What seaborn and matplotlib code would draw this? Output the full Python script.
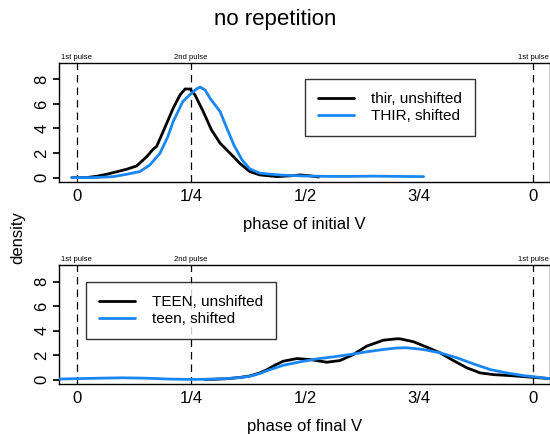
"""Phase density plots: no repetition."""

import matplotlib
matplotlib.use("Agg")
import matplotlib.pyplot as plt
import matplotlib.transforms as mtransforms
import seaborn as sns

# --- data ---
init_unshift_x = [-0.011, 0.021, 0.045, 0.065, 0.09, 0.109, 0.131, 0.153, 0.167, 0.175,
                  0.189, 0.211, 0.226, 0.237, 0.248, 0.259, 0.277, 0.295, 0.314, 0.336,
                  0.357, 0.379, 0.401, 0.423, 0.44, 0.47, 0.49, 0.51, 0.53]
init_unshift_y = [0.0, 0.0, 0.12, 0.27, 0.5, 0.68, 0.95, 1.7, 2.3, 2.55,
                  3.74, 5.64, 6.72, 7.21, 7.21, 6.72, 5.37, 3.88, 2.8, 1.98,
                  1.17, 0.49, 0.22, 0.14, 0.08, 0.15, 0.22, 0.15, 0.05]
init_shift_x = [-0.011, 0.036, 0.08, 0.109, 0.138, 0.16, 0.182, 0.199, 0.211, 0.232, 0.251,
                0.262, 0.270, 0.281, 0.292, 0.314, 0.329, 0.344, 0.362, 0.379, 0.401,
                0.423, 0.45, 0.5, 0.55, 0.6, 0.65, 0.7, 0.76]
init_shift_y = [0.0, 0.0, 0.08, 0.27, 0.49, 1.03, 1.98, 3.3, 4.55, 6.18, 6.86,
                7.21, 7.37, 7.13, 6.45, 5.37, 4.0, 2.66, 1.44, 0.71, 0.36,
                0.28, 0.2, 0.13, 0.1, 0.1, 0.12, 0.1, 0.08]

final_unshift_x = [0.28, 0.30, 0.33, 0.355, 0.379, 0.401, 0.416, 0.435, 0.452, 0.482,
                   0.511, 0.548, 0.577, 0.606, 0.635, 0.672, 0.701, 0.708, 0.738, 0.767,
                   0.796, 0.825, 0.855, 0.884, 0.913, 0.95, 1.0, 1.037]
final_unshift_y = [0.02, 0.03, 0.08, 0.17, 0.3, 0.55, 0.8, 1.2, 1.5, 1.72,
                   1.64, 1.42, 1.56, 2.05, 2.73, 3.22, 3.33, 3.33, 3.09, 2.65,
                   2.19, 1.56, 0.96, 0.55, 0.41, 0.33, 0.19, 0.08]
final_shift_x = [-0.04, 0.0, 0.05, 0.1, 0.15, 0.2, 0.25, 0.28, 0.31, 0.34, 0.36, 0.379,
                 0.401, 0.416, 0.452, 0.489, 0.526, 0.562, 0.599, 0.635, 0.672, 0.701,
                 0.723, 0.759, 0.796, 0.833, 0.869, 0.906, 0.942, 0.979, 1.0, 1.037]
final_shift_y = [0.05, 0.08, 0.12, 0.15, 0.12, 0.05, 0.02, 0.03, 0.06, 0.12, 0.18, 0.27,
                 0.5, 0.72, 1.17, 1.45, 1.69, 1.86, 2.05, 2.27, 2.46, 2.58,
                 2.6, 2.46, 2.19, 1.78, 1.29, 0.82, 0.55, 0.33, 0.25, 0.08]

tick_pos = [0, 0.25, 0.5, 0.75, 1.0]
tick_lab = ["0", "1/4", "1/2", "3/4", "0"]
pulse_pos = [0, 0.25, 1.0]
pulse_lab = ["1st pulse", "2nd pulse", "1st pulse"]

BLUE = "#1a86f2"

sns.set_theme(style="ticks")
plt.rcParams["font.family"] = ["Liberation Sans", "DejaVu Sans"]
plt.rcParams["text.color"] = "black"
plt.rcParams["axes.labelcolor"] = "black"
plt.rcParams["xtick.color"] = "black"
plt.rcParams["ytick.color"] = "black"

fig = plt.figure(figsize=(5.5, 4.34), dpi=100)
ax1 = fig.add_axes([0.107, 0.580, 0.893, 0.2755])
ax2 = fig.add_axes([0.107, 0.1145, 0.893, 0.2749])

panels = [
    (ax1, init_unshift_x, init_unshift_y, init_shift_x, init_shift_y,
     "thir, unshifted", "THIR, shifted", "phase of initial V", (0.501, 0.864)),
    (ax2, final_unshift_x, final_unshift_y, final_shift_x, final_shift_y,
     "TEEN, unshifted", "teen, shifted", "phase of final V", (0.055, 0.857)),
]

for ax, ux, uy, sx, sy, ulab, slab, xlab, leg_anchor in panels:
    for p in pulse_pos:
        ax.axvline(p, color="black", linestyle=(0, (6, 4)), linewidth=0.9, zorder=1)
    sns.lineplot(x=ux, y=uy, color="black", linewidth=2, label=ulab, ax=ax, zorder=3)
    sns.lineplot(x=sx, y=sy, color=BLUE, linewidth=2, label=slab, ax=ax, zorder=4)

    ax.set_xlim(-0.0395, 1.037)
    ax.set_ylim(-0.38, 9.35)
    ax.set_xticks(tick_pos)
    ax.set_xticklabels(tick_lab, fontsize=12)
    ax.set_yticks([0, 2, 4, 6, 8])
    ax.set_yticklabels(["0", "2", "4", "6", "8"], fontsize=12, rotation=90, va="center")
    ax.tick_params(axis="x", length=0, pad=5)
    ax.tick_params(axis="y", length=4, pad=3)
    ax.set_xlabel(xlab, fontsize=12, labelpad=9)
    ax.set_ylabel("")
    for s in ax.spines.values():
        s.set_linewidth(1.0)
        s.set_color("black")

    trans = mtransforms.blended_transform_factory(ax.transData, ax.transAxes)
    for p, t in zip(pulse_pos, pulse_lab):
        ax.text(p, 1.015, t, transform=trans, ha="center", va="bottom", fontsize=5.5)

    leg = ax.legend(loc="upper left", bbox_to_anchor=leg_anchor, fontsize=11,
                    frameon=True, fancybox=False, edgecolor="black",
                    handlelength=2.35, borderpad=0.85, labelspacing=0.2,
                    handletextpad=1.15, borderaxespad=0)
    leg.get_frame().set_linewidth(1.0)

fig.text(0.5, 0.955, "no repetition", ha="center", va="center", fontsize=16)
fig.text(0.033, 0.452, "density", ha="center", va="center", rotation=90, fontsize=12)

fig.savefig("out.png", dpi=100)
plt.close(fig)
